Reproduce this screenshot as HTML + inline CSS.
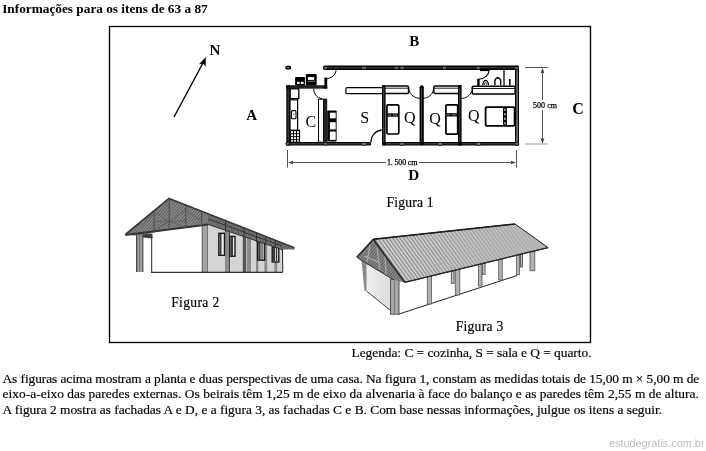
<!DOCTYPE html>
<html><head><meta charset="utf-8">
<style>
html,body{margin:0;padding:0;background:#fff;width:706px;height:451px;overflow:hidden}
svg{position:absolute;left:0;top:0;will-change:transform}
.s{font-family:"Liberation Serif",serif}
.t{stroke:#000;stroke-width:0.18px}
</style></head><body>
<svg width="706" height="451" viewBox="0 0 706 451">
<defs>
<pattern id="corr" width="3" height="3" patternUnits="userSpaceOnUse" patternTransform="rotate(-36)">
<rect width="3" height="3" fill="#d2d2d2"/><rect width="1.2" height="3" fill="#858585"/>
</pattern>
<pattern id="truss" width="2.2" height="2.2" patternUnits="userSpaceOnUse" patternTransform="rotate(40)">
<rect width="2.2" height="2.2" fill="#8e8e8e"/><rect width="0.9" height="2.2" fill="#5a5a5a"/>
</pattern>
<pattern id="truss2" width="2.2" height="2.2" patternUnits="userSpaceOnUse" patternTransform="rotate(-35)">
<rect width="2.2" height="2.2" fill="#7a7a7a"/><rect width="0.8" height="2.2" fill="#505050"/>
</pattern>
<linearGradient id="rf" gradientUnits="userSpaceOnUse" x1="400" y1="0" x2="548" y2="0"><stop offset="0" stop-color="#b4b4b4" stop-opacity="0"/><stop offset="1" stop-color="#b6b6b6" stop-opacity="0.9"/></linearGradient>
<linearGradient id="gw" x1="0" y1="0" x2="1" y2="0"><stop offset="0" stop-color="#f0f0f0"/><stop offset="1" stop-color="#d8d8d8"/></linearGradient>
</defs>
<!-- title -->
<text class="s" x="2.2" y="12.8" font-size="13.3" font-weight="bold" textLength="205.5" lengthAdjust="spacing">Informações para os itens de 63 a 87</text>
<!-- box -->
<rect x="109.5" y="26.5" width="481" height="316" fill="none" stroke="#000" stroke-width="1.35"/>

<!-- north arrow -->
<line x1="174" y1="117" x2="203.5" y2="62" stroke="#000" stroke-width="1.4"/>
<polygon points="205.8,57 205.6,66.8 203.2,63.6 199,64.2" fill="#000"/>
<text class="s" x="209.5" y="54.7" font-size="15" font-weight="bold">N</text>
<text class="s" x="409.3" y="46.0" font-size="15" font-weight="bold">B</text>
<text class="s" x="246.2" y="120.2" font-size="15" font-weight="bold">A</text>
<text class="s" x="572.3" y="114.4" font-size="16" font-weight="bold">C</text>
<text class="s" x="408.2" y="180.4" font-size="15" font-weight="bold" textLength="11" lengthAdjust="spacingAndGlyphs">D</text>
<text class="s t" x="386.6" y="207" font-size="13.6" textLength="47" lengthAdjust="spacing">Figura 1</text>
<text class="s t" x="171.2" y="306.8" font-size="13.6" textLength="48" lengthAdjust="spacing">Figura 2</text>
<text class="s t" x="455.7" y="331.2" font-size="13.6" textLength="47.5" lengthAdjust="spacing">Figura 3</text>

<!-- floor plan -->
<g id="plan">
 <!-- outer walls -->
 <rect x="323" y="65.6" width="196" height="4.4" rx="1.8" fill="#000"/>
 <rect x="325" y="67.4" width="190" height="0.9" fill="#555"/>
 <rect x="285.3" y="65.8" width="5.8" height="3.6" rx="1.5" fill="#000"/>
 <rect x="287" y="67.2" width="2.4" height="0.9" fill="#888"/>
 <rect x="285.7" y="142" width="85.5" height="3.6" rx="1.5" fill="#000"/>
 <rect x="382" y="142" width="137" height="3.6" rx="1.5" fill="#000"/>
 <rect x="288" y="143.4" width="82" height="0.9" fill="#5a5a5a"/>
 <rect x="386" y="143.4" width="130" height="0.9" fill="#5a5a5a"/>
 <rect x="286.3" y="85.3" width="3.6" height="60.2" fill="#000"/>
 <rect x="287.7" y="88" width="0.9" height="55" fill="#555"/>
 <rect x="515" y="65.6" width="4" height="80" rx="1.5" fill="#000"/>
 <rect x="516.6" y="70" width="0.9" height="72" fill="#ccc"/>
 <rect x="286.3" y="85.3" width="40.9" height="3.3" fill="#000"/>
 <rect x="289" y="86.6" width="35" height="0.8" fill="#555"/>
 <rect x="324.4" y="77.5" width="2.8" height="11" fill="#000"/>
 <path d="M336 70.2 C336 75 331 78.5 326 78.8" fill="none" stroke="#000" stroke-width="1"/>
 <!-- appliances -->
 <rect x="295.1" y="76.9" width="9.8" height="8.6" rx="0.8" fill="#000"/>
 <rect x="297.1" y="81.8" width="2.5" height="2.2" fill="#fff"/><rect x="300.9" y="81.8" width="2.7" height="2.2" fill="#fff"/>
 <rect x="305.8" y="74" width="10.9" height="11.5" rx="1" fill="#000"/>
 <rect x="308" y="77.1" width="6.2" height="2.8" fill="#fff"/>
 <rect x="307.5" y="80.8" width="7.5" height="1" fill="#777"/>
 <!-- counter -->
 <rect x="290.2" y="88.8" width="8.6" height="9.8" fill="#fff" stroke="#000" stroke-width="1.3"/>
 <rect x="290" y="99.8" width="7.6" height="30.5" fill="#fff" stroke="#000" stroke-width="1.2"/>
 <rect x="291.4" y="110.6" width="4.6" height="8.2" rx="1" fill="#fff" stroke="#000" stroke-width="1.1"/>
 <rect x="293.2" y="113.8" width="1.2" height="1.2" fill="#555"/>
 <rect x="289.8" y="129.8" width="10.3" height="12.8" fill="#000"/>
 <g fill="#fff">
  <rect x="291" y="131.2" width="2" height="2"/><rect x="294" y="131.2" width="2" height="2"/><rect x="297" y="131.2" width="2" height="2"/>
  <rect x="291" y="134.2" width="2" height="2"/><rect x="294" y="134.2" width="2" height="2"/><rect x="297" y="134.2" width="2" height="2"/>
  <rect x="291" y="137.2" width="2" height="2"/><rect x="294" y="137.2" width="2" height="2"/><rect x="297" y="137.2" width="2" height="2"/>
  <rect x="291" y="140.2" width="2" height="1.5"/><rect x="294" y="140.2" width="2" height="1.5"/><rect x="297" y="140.2" width="2" height="1.5"/>
 </g>
 <path d="M313.7 88.6 C313.7 94 317 98 322 98.6" fill="none" stroke="#000" stroke-width="1"/>
 <!-- partition -->
 <rect x="318.5" y="99.2" width="5" height="43" fill="#fff" stroke="#000" stroke-width="1"/>
 <rect x="323.6" y="98.5" width="3.6" height="44" rx="1.2" fill="#222"/>
 <rect x="327.2" y="110.5" width="9.4" height="31.1" rx="0.8" fill="#000"/>
 <rect x="329.9" y="112.7" width="5.8" height="5.6" fill="#fff"/><rect x="329.9" y="122.2" width="5.8" height="7.2" fill="#fff"/><rect x="329.9" y="131.6" width="5.8" height="8.3" fill="#fff"/>
 <text class="s" x="305.5" y="126.6" font-size="16">C</text>
 <text class="s" x="360.2" y="123.3" font-size="16">S</text>
 <!-- sala bench -->
 <rect x="345.9" y="87.7" width="37" height="6" rx="1.2" fill="#fff" stroke="#000" stroke-width="1.2"/>
 <!-- Q1 -->
 <rect x="383" y="86" width="25.6" height="7.6" rx="1.6" fill="#fff" stroke="#000" stroke-width="1.5"/>
 <line x1="385" y1="88.2" x2="408" y2="88.2" stroke="#000" stroke-width="0.9"/>
 <rect x="382" y="85" width="3.6" height="60.5" rx="1" fill="#000"/>
 <rect x="383.4" y="87.5" width="0.8" height="55" fill="#666"/>
 <path d="M371 142.3 C371 135 376 130.5 381.8 130" fill="none" stroke="#000" stroke-width="1.3"/>
 <path d="M408.8 89.5 C410 95 415 98.3 420 98.3 M422.5 98.3 C428 98.3 432.5 95 433.5 89.5" fill="none" stroke="#000" stroke-width="1"/>
 <rect x="419.6" y="85.3" width="4.2" height="60" rx="2" fill="#000"/>
 <rect x="421.3" y="88" width="0.8" height="54" fill="#555"/>
 <rect x="433.8" y="86" width="25.6" height="7.6" rx="1.6" fill="#fff" stroke="#000" stroke-width="1.5"/>
 <line x1="434.5" y1="88.2" x2="458" y2="88.2" stroke="#000" stroke-width="0.9"/>
 <rect x="458" y="85" width="3.6" height="60.5" fill="#000"/>
 <rect x="459.4" y="88" width="0.8" height="54" fill="#555"/>
 <!-- beds -->
 <rect x="386.9" y="104.8" width="11.9" height="29.2" rx="1.2" fill="#fff" stroke="#000" stroke-width="1.7"/>
 <rect x="386.8" y="113.4" width="11.6" height="3.3" fill="#000"/><rect x="387.6" y="114.6" width="3.5" height="1" fill="#888"/><rect x="393" y="114.6" width="4.5" height="1" fill="#888"/>
 <rect x="445.9" y="104.9" width="11.8" height="29.2" rx="1.2" fill="#fff" stroke="#000" stroke-width="1.7"/>
 <rect x="445.6" y="113.2" width="11.8" height="3.3" fill="#000"/><rect x="446.4" y="114.4" width="3.5" height="1" fill="#888"/><rect x="451.8" y="114.4" width="4.7" height="1" fill="#888"/>
 <text class="s" x="404" y="123.3" font-size="16">Q</text>
 <text class="s" x="429.3" y="124" font-size="16">Q</text>
 <text class="s" x="468.1" y="121.3" font-size="16">Q</text>
 <!-- Q3 -->
 <rect x="472.2" y="86.3" width="43" height="7.8" rx="1.2" fill="#fff" stroke="#000" stroke-width="1.5"/>
 <line x1="473" y1="88.5" x2="515" y2="88.5" stroke="#000" stroke-width="0.9"/>
 <path d="M471.6 91.5 C470 95.5 466 98.4 461.5 98.4" fill="none" stroke="#000" stroke-width="1"/>
 <rect x="485.6" y="107.1" width="29" height="18.8" rx="1.2" fill="#fff" stroke="#000" stroke-width="1.8"/>
 <rect x="503" y="107.1" width="3.9" height="18.8" fill="#000"/>
 <line x1="504.95" y1="108.5" x2="504.95" y2="125" stroke="#fff" stroke-width="1" stroke-dasharray="2.5,2"/>
 <!-- bathroom -->
 <path d="M489 70 C489 75 485 79 478.5 79.2" fill="none" stroke="#000" stroke-width="1.1"/>
 <rect x="480" y="69.5" width="9.5" height="1.6" fill="#000"/>
 <rect x="477.2" y="78.8" width="2.4" height="7" fill="#000"/>
 <path d="M482.8 85 C482.8 82 485 80.3 485.7 80.3 C486.5 80.3 488.6 82 488.6 85" fill="none" stroke="#000" stroke-width="1.2"/>
 <path d="M484.4 85 C484.4 83.5 485 82.6 485.7 82.6 C486.4 82.6 487 83.5 487 85" fill="none" stroke="#000" stroke-width="0.8"/>
 <path d="M494.9 85 L494.9 81 C494.9 79 496.5 77.8 497.8 77.8 C499 77.8 500.7 79 500.7 81 L500.7 85" fill="none" stroke="#000" stroke-width="1.4"/>
 <line x1="504" y1="69.5" x2="504" y2="85.5" stroke="#000" stroke-width="1.3"/>
 <line x1="509.8" y1="79" x2="509.8" y2="85.5" stroke="#000" stroke-width="1.5"/>
 <!-- pillar markers -->
 <g fill="#777" stroke="#000" stroke-width="0.7">
  <rect x="361.5" y="66.6" width="4.8" height="2.6" rx="1"/><rect x="394" y="66.6" width="4.6" height="2.6" rx="1"/><rect x="399.8" y="66.6" width="4.6" height="2.6" rx="1"/><rect x="442.5" y="66.6" width="4" height="2.6" rx="1"/><rect x="476" y="66.6" width="4.4" height="2.6" rx="1"/><rect x="514.8" y="66.6" width="3.6" height="2.6" rx="1"/><rect x="323.5" y="66.6" width="4" height="2.6" rx="1"/>
  <rect x="286" y="142.5" width="3.2" height="2.6" rx="1"/><rect x="323.8" y="142.5" width="3.6" height="2.6" rx="1"/><rect x="361.5" y="142.3" width="4.6" height="3" rx="1"/>
  <rect x="399.8" y="142.3" width="4.2" height="3" rx="1"/><rect x="438" y="142.3" width="4.2" height="3" rx="1"/><rect x="476.3" y="142.3" width="4.2" height="3" rx="1"/><rect x="515.3" y="142.3" width="3.4" height="3" rx="1"/>
 </g>
</g>

<!-- dimensions -->
<g stroke="#555" stroke-width="1" fill="none">
 <line x1="525" y1="67.5" x2="548" y2="67.5"/>
 <line x1="525" y1="144" x2="547.5" y2="144" stroke="#aaa" stroke-width="1.2"/>
 <line x1="542.5" y1="70" x2="542.5" y2="100"/>
 <line x1="542.5" y1="110" x2="542.5" y2="141"/>
 <line x1="287.5" y1="150" x2="287.5" y2="167.6"/>
 <line x1="516.5" y1="150" x2="516.5" y2="167.6"/>
 <line x1="290" y1="162.5" x2="386" y2="162.5"/>
 <line x1="419" y1="162.5" x2="514" y2="162.5"/>
</g>
<g fill="#444">
 <polygon points="542.5,67.8 540.7,73 544.3,73"/>
 <polygon points="542.5,143.8 540.7,138.6 544.3,138.6"/>
 <polygon points="288,162.5 293,160.8 293,164.2"/>
 <polygon points="516,162.5 511,160.8 511,164.2"/>
</g>
<text class="s" x="533" y="107.7" font-size="8" stroke="#000" stroke-width="0.25" textLength="24" lengthAdjust="spacing">500 cm</text>
<text class="s" x="387" y="165" font-size="8" stroke="#000" stroke-width="0.25" textLength="30.5" lengthAdjust="spacing">1. 500 cm</text>

<!-- Figure 2 -->
<g id="fig2">
 <polygon points="207.8,224 282.2,249.4 282.2,272.2 207.8,272.2" fill="#d4d4d4"/>
 <polygon points="151.5,234 202,225 202,272 151.5,272" fill="#fff"/>
 <line x1="151.7" y1="237" x2="151.7" y2="272" stroke="#222" stroke-width="1"/>
 <rect x="136" y="234" width="7.3" height="38" fill="#9c9c9c"/>
 <rect x="136" y="234" width="1.2" height="38" fill="#444"/><rect x="142.2" y="234" width="1.1" height="38" fill="#555"/><rect x="139" y="236" width="1" height="35" fill="#7a7a7a"/>
 <rect x="201.8" y="224.9" width="6.2" height="47.3" fill="#a4a4a4"/>
 <rect x="201.8" y="224.9" width="1" height="47.3" fill="#666"/><rect x="207" y="224.9" width="1" height="47.3" fill="#777"/>
 <g fill="#8a8a8a">
  <rect x="225" y="231" width="4.9" height="41"/>
  <rect x="246.7" y="237" width="4.3" height="35"/>
  <rect x="256" y="240" width="2.3" height="32"/>
  <rect x="264.4" y="243" width="2.8" height="29"/>
  <rect x="274.4" y="246" width="2.8" height="26"/>
 </g>
 <rect x="242.8" y="236" width="3.2" height="36" fill="#555"/>
 <rect x="229" y="231" width="1" height="41" fill="#444"/>
 <g fill="#ececec" stroke="#1a1a1a" stroke-width="1.4">
  <rect x="218.8" y="233.3" width="5.7" height="22"/>
  <rect x="229.8" y="236.4" width="5.2" height="19.8"/>
  <rect x="257.7" y="242.2" width="6.8" height="18" fill="#cfcfcf"/>
  <rect x="272.2" y="247.2" width="6.6" height="14.8" fill="#c4c4c4"/>
 </g>
 <g fill="#3a3a3a">
  <rect x="219.5" y="234" width="2" height="21"/><rect x="230.5" y="237" width="2.5" height="19"/><rect x="258.5" y="243" width="2" height="17"/><rect x="273" y="248" width="2" height="13"/>
  <rect x="261.5" y="243" width="1" height="17"/><rect x="276" y="248" width="1" height="13"/>
 </g>
 <polygon points="169,198.4 125.4,234.5 143,236.5 152,232.5 202,224.5 208,224 208,213.7" fill="url(#truss)"/>
 <polygon points="208,213.7 294.4,247.8 295,249.6 282.2,249.6 208,224.5" fill="url(#truss2)"/>
 <g stroke="#333" stroke-width="1">
  <line x1="225.5" y1="220" x2="225.5" y2="232"/><line x1="244" y1="227.5" x2="244" y2="238"/><line x1="256.5" y1="232.5" x2="256.5" y2="242"/><line x1="265.5" y1="236" x2="265.5" y2="244.5"/><line x1="275.5" y1="240" x2="275.5" y2="247.5"/>
  <line x1="208" y1="219" x2="282" y2="246"/>
 </g>
 <line x1="125.4" y1="235" x2="208" y2="224.4" stroke="#333" stroke-width="2"/>
 <line x1="208" y1="224.4" x2="282.2" y2="249.6" stroke="#333" stroke-width="1"/>
 <polyline points="125.4,234.5 169,198.4 294.4,247.8" fill="none" stroke="#3a3a3a" stroke-width="1.7"/>
 <polygon points="143,234.6 152.5,233.6 152.5,238.4 143,237.6" fill="#3a3a3a"/>
 <g stroke="#4a4a4a" stroke-width="1">
  <line x1="154" y1="211" x2="154" y2="233"/><line x1="169.2" y1="199" x2="169.2" y2="230"/><line x1="185.8" y1="205" x2="185.8" y2="228"/><line x1="201.7" y1="212" x2="201.7" y2="226"/>
 </g>
 <g stroke="#5a5a5a" stroke-width="0.8">
  <line x1="155" y1="221.5" x2="185" y2="221"/>
  <line x1="140" y1="228" x2="154" y2="212"/><line x1="154" y1="212" x2="169" y2="221.5"/><line x1="169" y1="221.5" x2="185.8" y2="210"/><line x1="185.8" y1="210" x2="201.7" y2="221"/>
  <line x1="154" y1="230" x2="169" y2="221.5"/><line x1="169" y1="221.5" x2="185.8" y2="227"/>
 </g>
 <line x1="151" y1="272.3" x2="282.5" y2="272.3" stroke="#000" stroke-width="1"/>
 <line x1="282.5" y1="249" x2="282.8" y2="272.5" stroke="#222" stroke-width="1"/>
</g>

<!-- Figure 3 -->
<g id="fig3">
 <polygon points="366,262 393,280 393,312.5 366.5,291" fill="url(#gw)"/>
 <polygon points="399,282 548,247.6 535,271 500,280 399,314.2" fill="#fff"/>
 <line x1="366.5" y1="291" x2="393" y2="312.5" stroke="#444" stroke-width="1"/>
 <line x1="398.5" y1="314.2" x2="517" y2="275.5" stroke="#222" stroke-width="1"/>
 <polygon points="361.5,260.5 366.5,261.5 366.5,291 364.5,291" fill="#8a8a8a"/>
 <rect x="390.6" y="279" width="8.4" height="35.2" fill="#a8a8a8" stroke="#444" stroke-width="0.9"/>
 <line x1="394.5" y1="281" x2="394.5" y2="313" stroke="#777" stroke-width="1"/>
 <g fill="#b2b2b2" stroke="#555" stroke-width="0.8">
  <rect x="427.3" y="276" width="4.2" height="28"/>
  <rect x="455.3" y="269.4" width="4.5" height="25.6"/>
  <rect x="478.4" y="263.9" width="3.6" height="22.1"/>
  <rect x="498.7" y="258.4" width="3.5" height="21.6"/>
  <rect x="516.6" y="254.5" width="2.8" height="20.2"/>
  <rect x="530" y="251.4" width="4.8" height="19.4"/>
 </g>
 <g fill="#bbb" stroke="#444" stroke-width="0.8">
  <rect x="451.3" y="271" width="2.8" height="12.3"/>
  <rect x="482.3" y="263.3" width="2.8" height="11"/>
  <rect x="520.5" y="253" width="2" height="14"/>
 </g>
 <polygon points="373.3,239.3 356.7,257.3 361.5,261 394,280 404.8,282.4" fill="url(#truss)"/>
 <g stroke="#d0d0d0" stroke-width="1.2" opacity="0.55">
  <line x1="370" y1="245" x2="367" y2="262"/><line x1="377" y1="248" x2="380" y2="270"/><line x1="385" y1="256" x2="386" y2="275"/><line x1="364" y1="256" x2="378" y2="262"/>
 </g>
 <polygon points="373.3,239.3 515,224 548.1,247.6 404.8,282.4" fill="url(#corr)"/>
 <polygon points="373.3,239.3 515,224 548.1,247.6 404.8,282.4" fill="url(#rf)"/>
 <polygon points="373.3,239.3 515,224 548.1,247.6 404.8,282.4" fill="none" stroke="#222" stroke-width="1"/>
 <line x1="356.7" y1="257.3" x2="373.3" y2="239.3" stroke="#222" stroke-width="1.5"/>
 <line x1="373.3" y1="239.3" x2="404.8" y2="282.4" stroke="#2a2a2a" stroke-width="1.6"/>
 <line x1="373.3" y1="239.3" x2="515" y2="224" stroke="#1a1a1a" stroke-width="1.5"/>
 <line x1="404.8" y1="282.4" x2="548.1" y2="247.6" stroke="#2a2a2a" stroke-width="1.3"/>
 <line x1="357" y1="257.5" x2="394" y2="280" stroke="#333" stroke-width="1"/>
</g>

<!-- legend + paragraph -->
<text class="s t" x="351.5" y="357.2" font-size="13.4" textLength="240" lengthAdjust="spacing">Legenda: C = cozinha, S = sala e Q = quarto.</text>
<text class="s t" x="2.5" y="382.5" font-size="13.4" textLength="696.7" lengthAdjust="spacing">As figuras acima mostram a planta e duas perspectivas de uma casa. Na figura 1, constam as medidas totais de 15,00 m × 5,00 m de</text>
<text class="s t" x="2.5" y="397.9" font-size="13.4" textLength="696.4" lengthAdjust="spacing">eixo-a-eixo das paredes externas. Os beirais têm 1,25 m de eixo da alvenaria à face do balanço e as paredes têm 2,55 m de altura.</text>
<text class="s t" x="2.5" y="413.6" font-size="13.4" textLength="659.5" lengthAdjust="spacing">A figura 2 mostra as fachadas A e D, e a figura 3, as fachadas C e B. Com base nessas informações, julgue os itens a seguir.</text>
<text x="609" y="446.8" font-family="Liberation Sans" font-size="10.8" fill="#bcbcbc" textLength="95.5" lengthAdjust="spacing">estudegratis.com.br</text>
</svg>
</body></html>
